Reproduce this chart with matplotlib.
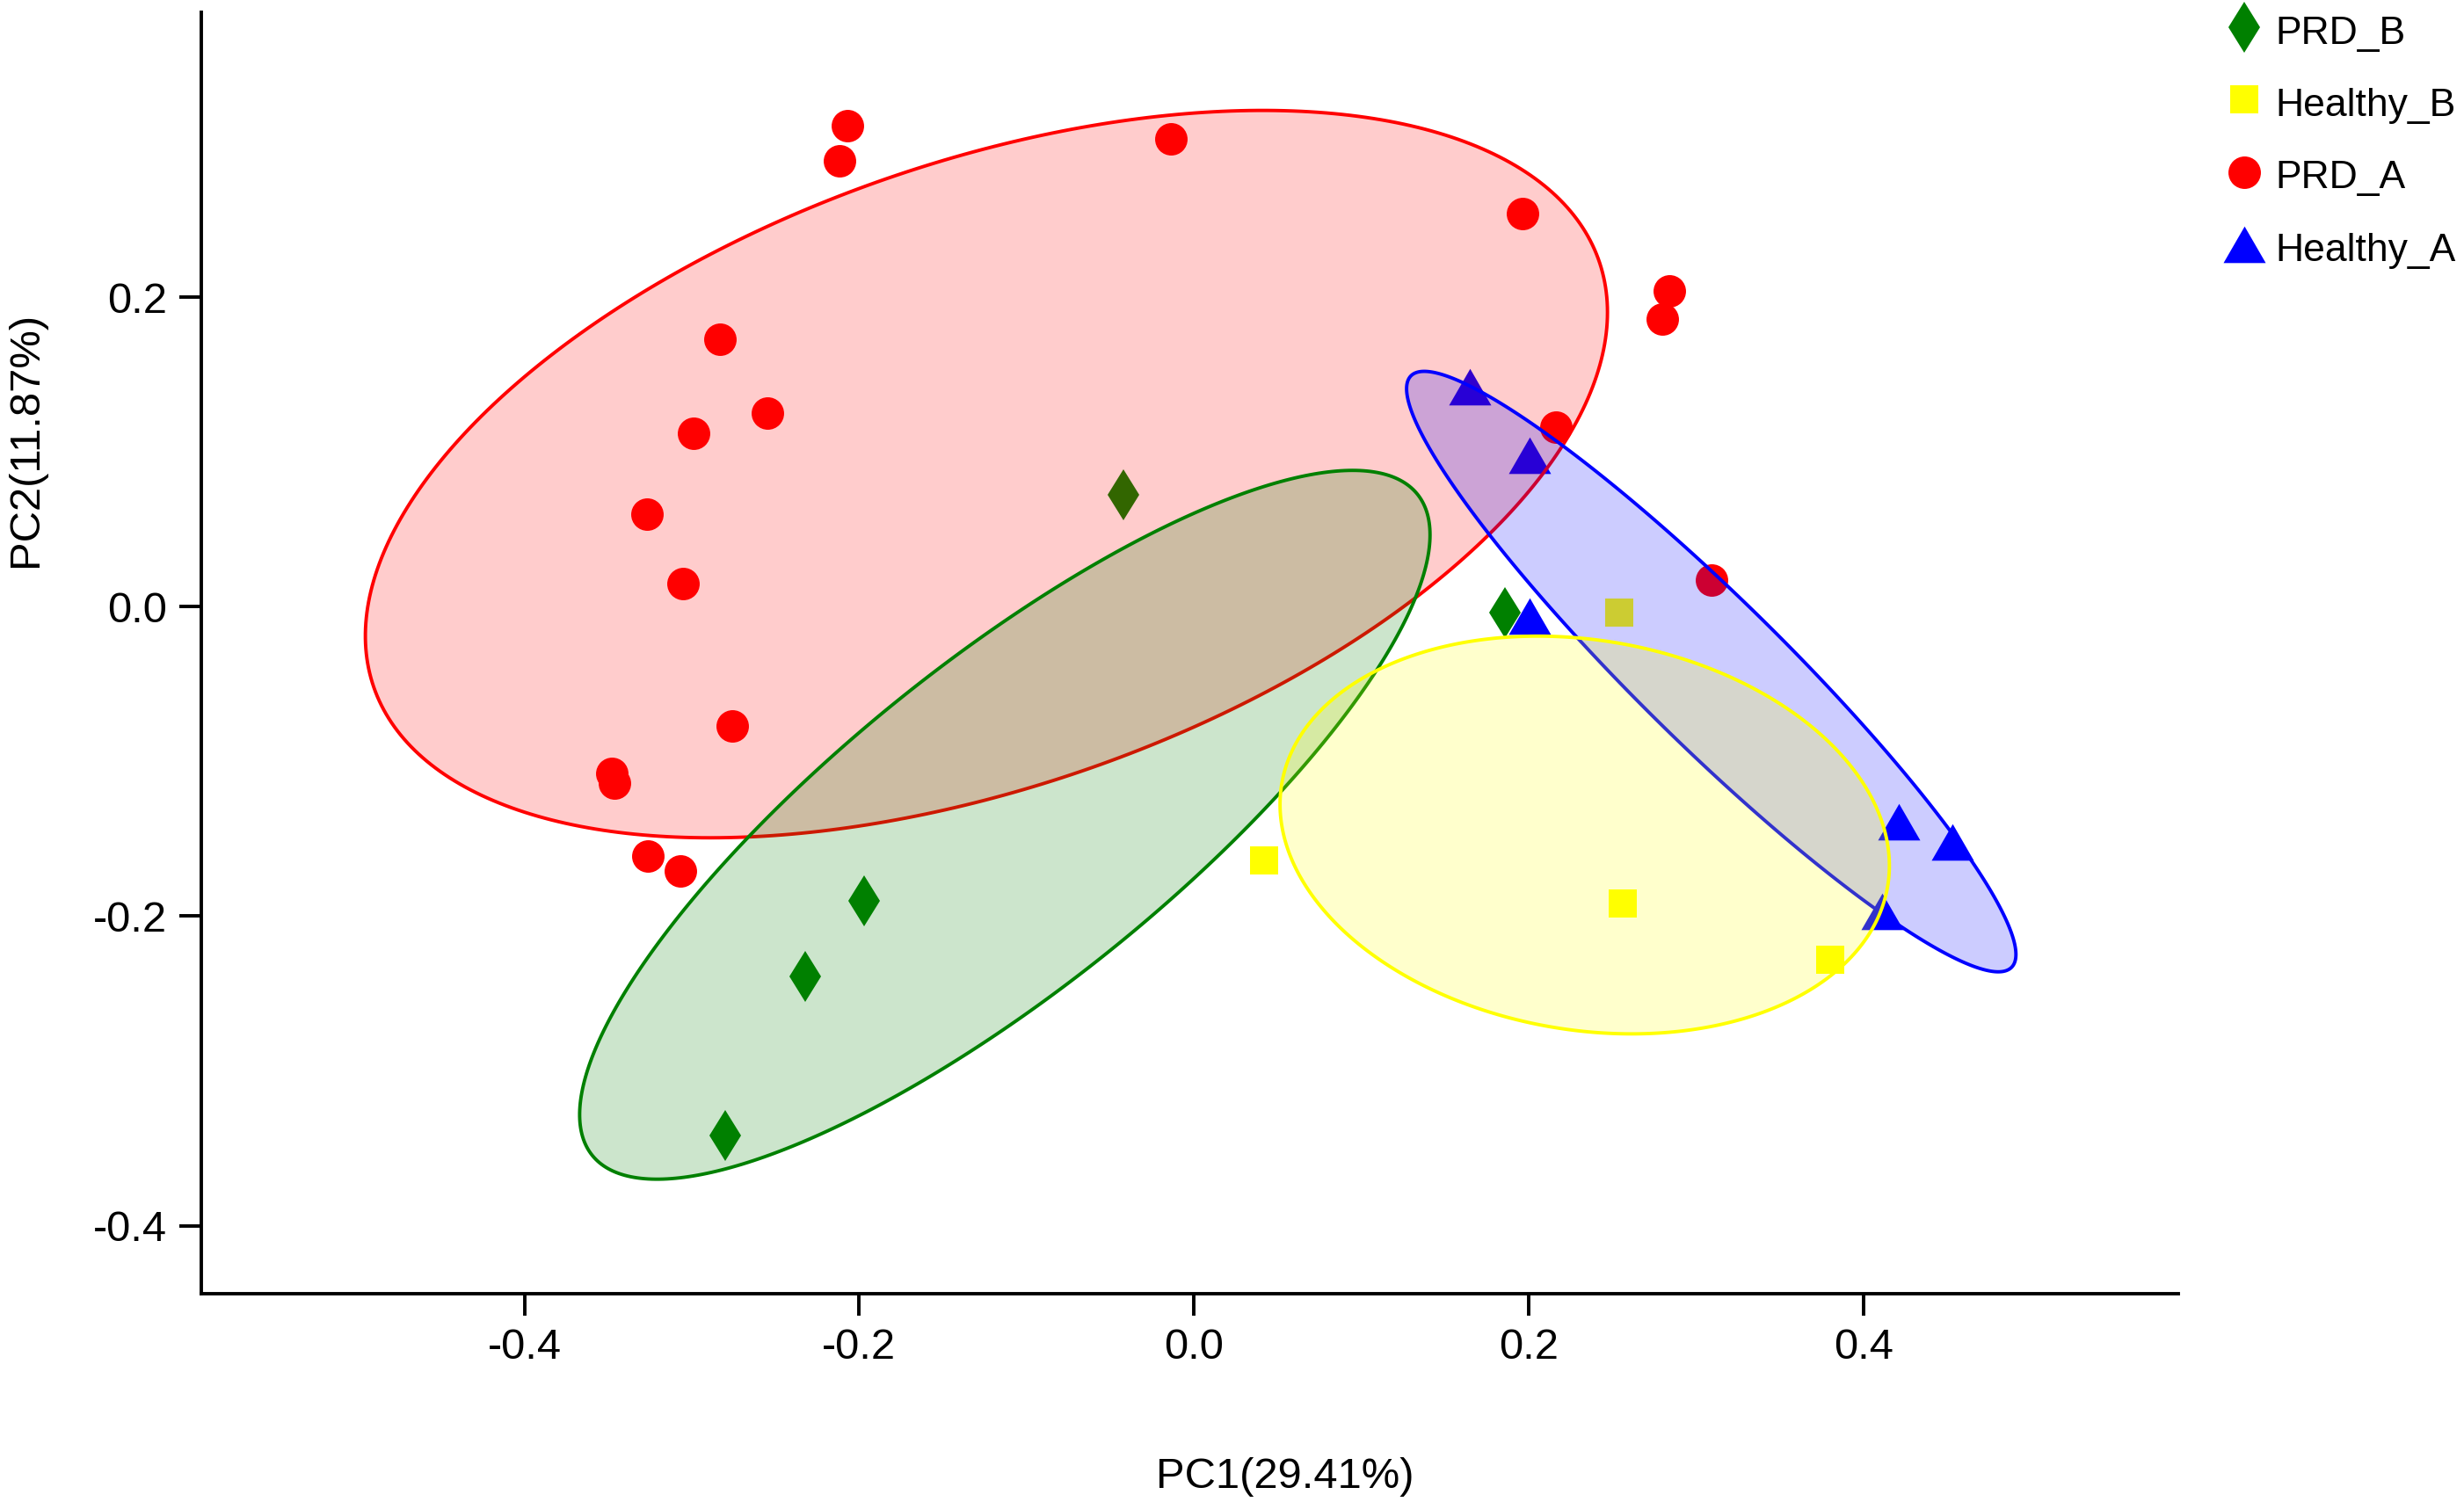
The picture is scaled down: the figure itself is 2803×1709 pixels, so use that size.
import numpy as np
import matplotlib
matplotlib.use("Agg")
import matplotlib.pyplot as plt
from matplotlib.lines import Line2D
from matplotlib.path import Path
from matplotlib.patches import Polygon
from matplotlib.colors import to_rgba

plt.rcParams['font.family'] = ['Liberation Sans', 'DejaVu Sans']
plt.rcParams['axes.unicode_minus'] = False

# ---------------- data ----------------
groups = ["PRD_B", "Healthy_B", "PRD_A", "Healthy_A"]

prd_b_x = [-0.042, 0.186, -0.197, -0.232, -0.280]
prd_b_y = [0.072, -0.004, -0.190, -0.239, -0.342]

healthy_b_x = [0.254, 0.042, 0.256, 0.380]
healthy_b_y = [-0.004, -0.164, -0.192, -0.228]

prd_a_x = [-0.207, -0.212, -0.014, 0.196, 0.284, 0.280, -0.283, -0.299, -0.255,
           -0.327, -0.305, 0.216, 0.309, -0.276, -0.348, -0.346, -0.326, -0.307]
prd_a_y = [0.311, 0.288, 0.302, 0.254, 0.204, 0.186, 0.173, 0.112, 0.125,
           0.060, 0.015, 0.116, 0.017, -0.077, -0.108, -0.114, -0.161, -0.171]

healthy_a_x = [0.165, 0.2005, 0.2005, 0.421, 0.453, 0.411]
healthy_a_y = [0.142, 0.098, -0.006, -0.139, -0.152, -0.197]

# confidence ellipses: centre, half-width, half-height, correlation
ell_groups = ["PRD_A", "PRD_B", "Healthy_A", "Healthy_B"]
ell_cx = [-0.124, -0.113, 0.309, 0.2334]
ell_cy = [0.0856, -0.141, -0.042, -0.1476]
ell_w = [0.371, 0.254, 0.182, 0.182]
ell_h = [0.235, 0.229, 0.194, 0.1285]
ell_rho = [0.445, 0.818, -0.942, -0.154]

x_ticks = [-0.4, -0.2, 0.0, 0.2, 0.4]
y_ticks = [-0.4, -0.2, 0.0, 0.2]
x_label = "PC1(29.41%)"
y_label = "PC2(11.87%)"

# ---------------- styles ----------------
colors = {"PRD_B": "#008000", "Healthy_B": "#FFFF00", "PRD_A": "#FF0000", "Healthy_A": "#0000FF"}
tri = Path([(0, 0.866), (-1, -0.866), (1, -0.866), (0, 0.866)],
           [Path.MOVETO, Path.LINETO, Path.LINETO, Path.CLOSEPOLY])
markers = {"PRD_B": "d", "Healthy_B": "s", "PRD_A": "o", "Healthy_A": tri}
msizes = {"PRD_B": 15, "Healthy_B": 11.5, "PRD_A": 13.3, "Healthy_A": 17.3}
pts = {"PRD_B": (prd_b_x, prd_b_y), "Healthy_B": (healthy_b_x, healthy_b_y),
       "PRD_A": (prd_a_x, prd_a_y), "Healthy_A": (healthy_a_x, healthy_a_y)}

W, H, DPI = 2803, 1709, 200
fig = plt.figure(figsize=(W / DPI, H / DPI), dpi=DPI)
ax = fig.add_axes([229 / W, 1 - 1472 / H, (2478 - 229) / W, (1472 - 14) / H])

for g in groups:
    x, y = pts[g]
    ax.plot(x, y, linestyle="none", marker=markers[g], markersize=msizes[g],
            color=colors[g], markeredgewidth=0, zorder=2)

t = np.linspace(0, 2 * np.pi, 400)
for i, g in enumerate(ell_groups):
    ex = ell_cx[i] + ell_w[i] * np.cos(t)
    ey = ell_cy[i] + ell_h[i] * (ell_rho[i] * np.cos(t) + np.sqrt(1 - ell_rho[i] ** 2) * np.sin(t))
    poly = Polygon(np.column_stack([ex, ey]), closed=True,
                   facecolor=to_rgba(colors[g], 0.2), edgecolor=colors[g],
                   linewidth=1.4, zorder=3 + i)
    ax.add_patch(poly)

ax.set_xlim(-0.593, 0.588)
ax.set_ylim(-0.444, 0.384)
ax.set_xticks(x_ticks)
ax.set_yticks(y_ticks)
ax.set_xticklabels([f"{v:.1f}" for v in x_ticks])
ax.set_yticklabels([f"{v:.1f}" for v in y_ticks])
for s in ["top", "right"]:
    ax.spines[s].set_visible(False)
for s in ["left", "bottom"]:
    ax.spines[s].set_linewidth(1.4)
ax.tick_params(axis="both", direction="out", length=9, width=1.4, labelsize=17.6, pad=5)

fig.text(1462 / W, 1 - 1693 / H, x_label, fontsize=17.6, ha="center", va="baseline")
fig.text(42 / W, 1 - 500 / H, y_label, fontsize=17.6, rotation=90, rotation_mode="anchor",
         ha="center", va="baseline")

handles = [Line2D([], [], linestyle="none", marker=markers[g], markersize=msizes[g],
                  color=colors[g], markeredgewidth=0) for g in groups]
fig.legend(handles, groups, loc="upper left", bbox_to_anchor=(2531 / W, 1 - 12 / H),
           frameon=False, fontsize=16, handlelength=1.0, handletextpad=0.3,
           handleheight=1.2, labelspacing=0.8, borderpad=0, borderaxespad=0)

fig.savefig("out.png", dpi=DPI)
